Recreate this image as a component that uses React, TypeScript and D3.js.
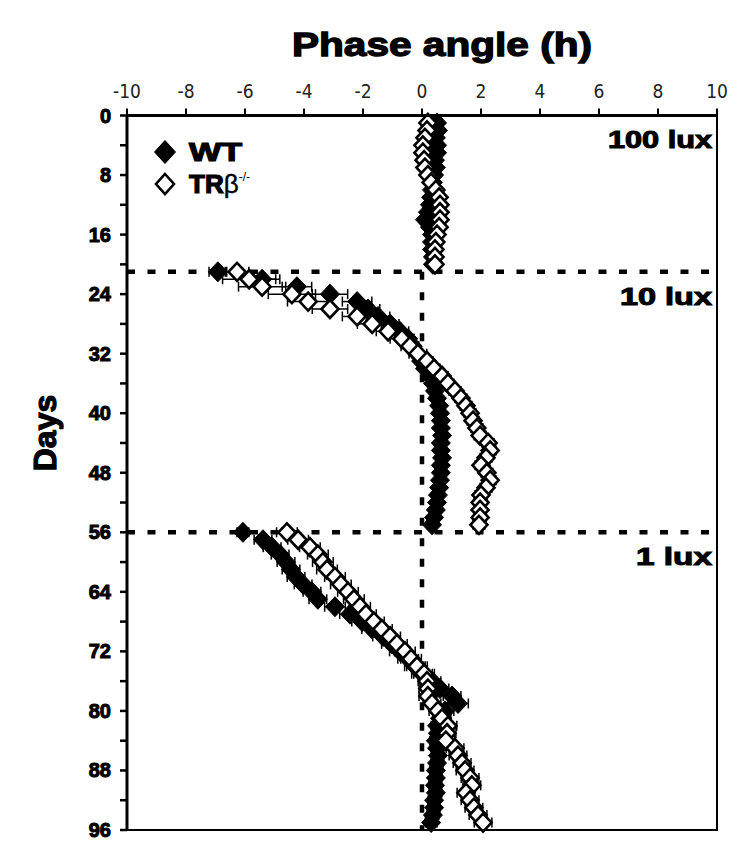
import React from 'react';
import * as d3 from 'd3';

// ---- data ----
const days = [
  1, 2, 3, 4, 5, 6, 7, 8, 9, 10, 11, 12, 13, 14, 15, 16, 17, 18, 19, 20,
  21, 22, 23, 24, 25, 26, 27, 28, 29, 30, 31, 32, 33, 34, 35, 36, 37, 38, 39, 40,
  41, 42, 43, 44, 45, 46, 47, 48, 49, 50, 51, 52, 53, 54, 55,
  56, 57, 58, 59, 60, 61, 62, 63, 64, 65, 66, 67, 68, 69, 70, 71, 72, 73, 74, 75,
  76, 77, 78, 79, 80, 81, 82, 83, 84, 85, 86, 87, 88, 89, 90, 91, 92, 93, 94, 95,
];

const wtPhase = [
  0.51, 0.54, 0.47, 0.51, 0.51, 0.44, 0.47, 0.41, 0.37, 0.34, 0.31, 0.27, 0.2, 0.1, 0.27, 0.34, 0.34, 0.34, 0.37, 0.37,
  -6.92, -5.42, -4.24, -3.12, -2.2, -1.83, -1.49, -1.08, -0.75, -0.47, -0.31, -0.17, -0.03, 0.1, 0.27, 0.37, 0.44, 0.51, 0.58, 0.61,
  0.64, 0.64, 0.68, 0.64, 0.64, 0.68, 0.64, 0.64, 0.61, 0.58, 0.54, 0.51, 0.47, 0.41, 0.34,
  -6.07, -5.39, -5.08, -4.81, -4.61, -4.44, -4.27, -4.03, -3.73, -3.53, -2.95, -2.44, -2.03, -1.69, -1.32, -1.02, -0.75, -0.47, -0.24, 0.0,
  0.34, 0.61, 1.02, 1.22, 0.78, 0.61, 0.51, 0.54, 0.47, 0.51, 0.54, 0.51, 0.47, 0.47, 0.44, 0.47, 0.41, 0.41, 0.37, 0.31,
];

const trPhase = [
  0.2, 0.17, 0.1, 0.03, 0.03, 0.07, 0.1, 0.2, 0.31, 0.47, 0.58, 0.61, 0.61, 0.61, 0.58, 0.51, 0.47, 0.44, 0.44, 0.44,
  -6.27, -5.86, -5.42, -4.41, -3.86, -3.12, -2.2, -1.69, -1.15, -0.68, -0.41, -0.14, 0.17, 0.41, 0.68, 0.88, 1.12, 1.32, 1.49, 1.63,
  1.73, 1.86, 1.97, 2.24, 2.31, 2.17, 2.0, 2.2, 2.31, 2.17, 2.0, 1.97, 1.97, 1.97, 1.93,
  -4.58, -4.2, -3.8, -3.53, -3.36, -3.22, -2.95, -2.75, -2.51, -2.31, -2.1, -1.9, -1.63, -1.36, -1.08, -0.85, -0.58, -0.37, -0.17, 0.07,
  0.17, 0.2, 0.2, 0.34, 0.54, 0.68, 0.88, 0.85, 0.81, 1.12, 1.22, 1.36, 1.46, 1.63, 1.69, 1.49, 1.63, 1.76, 1.9, 2.07,
];

const wtErr = [
  0.15, 0.15, 0.15, 0.15, 0.15, 0.15, 0.15, 0.15, 0.15, 0.15, 0.15, 0.15, 0.15, 0.15, 0.15, 0.15, 0.15, 0.15, 0.15, 0.15,
  0.3, 0.6, 0.5, 0.6, 0.5, 0.4, 0.4, 0.3, 0.3, 0.2, 0.15, 0.15, 0.15, 0.15, 0.15, 0.15, 0.15, 0.15, 0.15, 0.15,
  0.15, 0.15, 0.15, 0.15, 0.15, 0.15, 0.15, 0.15, 0.15, 0.15, 0.15, 0.15, 0.15, 0.15, 0.15,
  0.2, 0.3, 0.3, 0.3, 0.3, 0.3, 0.3, 0.3, 0.3, 0.3, 0.35, 0.35, 0.35, 0.35, 0.35, 0.35, 0.35, 0.35, 0.35, 0.35,
  0.3, 0.3, 0.3, 0.35, 0.3, 0.2, 0.2, 0.2, 0.2, 0.2, 0.2, 0.2, 0.2, 0.2, 0.2, 0.2, 0.2, 0.2, 0.2, 0.2,
];

const trErr = [
  0.15, 0.15, 0.15, 0.15, 0.15, 0.15, 0.15, 0.15, 0.15, 0.15, 0.15, 0.15, 0.15, 0.15, 0.15, 0.15, 0.15, 0.15, 0.15, 0.15,
  0.4, 0.9, 0.8, 0.8, 0.7, 0.6, 0.5, 0.5, 0.4, 0.4, 0.3, 0.3, 0.2, 0.2, 0.2, 0.2, 0.2, 0.2, 0.2, 0.2,
  0.2, 0.2, 0.2, 0.2, 0.2, 0.2, 0.2, 0.2, 0.2, 0.2, 0.2, 0.2, 0.2, 0.2, 0.2,
  0.35, 0.35, 0.35, 0.35, 0.35, 0.35, 0.35, 0.35, 0.35, 0.35, 0.35, 0.35, 0.35, 0.35, 0.35, 0.35, 0.35, 0.35, 0.35, 0.35,
  0.3, 0.3, 0.3, 0.3, 0.3, 0.3, 0.3, 0.3, 0.3, 0.3, 0.3, 0.3, 0.3, 0.3, 0.3, 0.3, 0.3, 0.3, 0.3, 0.3,
];

const xTicks = [-10, -8, -6, -4, -2, 0, 2, 4, 6, 8, 10];
const yLabelTicks = [0, 8, 16, 24, 32, 40, 48, 56, 64, 72, 80, 88, 96];
const yMinorTicks = [4, 12, 20, 28, 36, 44, 52, 60, 68, 76, 84, 92];
const shiftDays = [21, 56];
const luxLabels = ['100 lux', '10 lux', '1 lux'];
const luxLabelDays = [4.4, 25.4, 60.4];

const heavy = "'Liberation Sans', Arial, Helvetica, sans-serif";
const thin = "'Liberation Sans Narrow', 'DejaVu Sans Condensed', 'Liberation Sans', sans-serif";

function diamond(cx: number, cy: number, rx: number, ry: number) {
  return `M${cx},${cy - ry}L${cx + rx},${cy}L${cx},${cy + ry}L${cx - rx},${cy}Z`;
}

export default function App() {
  const W = 750;
  const H = 852;
  const x = d3.scaleLinear().domain([-10, 10]).range([127, 717]);
  const y = d3.scaleLinear().domain([0, 96]).range([115.5, 830]);
  const [x0, x1] = x.range();
  const [y0, y1] = y.range();
  const cap = 5;
  const luxWidths = [104, 92, 76];

  const errBars = (vals: number[], errs: number[], key: string) =>
    days.map((d, i) => {
      const cy = y(d);
      const a = x(vals[i] - errs[i]);
      const b = x(vals[i] + errs[i]);
      return (
        <g key={key + i} stroke="#000" strokeWidth={1.5}>
          <line x1={a} x2={b} y1={cy} y2={cy} />
          <line x1={a} x2={a} y1={cy - cap} y2={cy + cap} />
          <line x1={b} x2={b} y1={cy - cap} y2={cy + cap} />
        </g>
      );
    });

  return (
    <svg width={W} height={H} style={{ position: 'absolute', left: 0, top: 0, background: '#fff' }}>
      <rect x={0} y={0} width={W} height={H} fill="#fff" />

      {/* title */}
      <text
        x={442}
        y={56}
        textAnchor="middle"
        fontFamily={heavy}
        fontWeight="bold"
        fontSize={33}
        stroke="#000"
        strokeWidth={1.3}
        fill="#000"
        textLength={300}
        lengthAdjust="spacingAndGlyphs"
      >
        Phase angle (h)
      </text>

      {/* y title */}
      <text
        transform={`translate(56,${433}) rotate(-90)`}
        textAnchor="middle"
        fontFamily={heavy}
        fontWeight="bold"
        fontSize={32}
        stroke="#000"
        strokeWidth={1.2}
        fill="#000"
      >
        Days
      </text>

      {/* reference dashed lines */}
      {shiftDays.map((d) => (
        <line key={'h' + d} x1={x0} x2={x1} y1={y(d)} y2={y(d)} stroke="#000" strokeWidth={4.5} strokeDasharray="8,12.5" />
      ))}
      <line x1={x(0)} x2={x(0)} y1={y(shiftDays[0])} y2={y1} stroke="#000" strokeWidth={4.5} strokeDasharray="8,12.5" />

      {/* error bars */}
      {errBars(wtPhase, wtErr, 'we')}
      {errBars(trPhase, trErr, 'te')}

      {/* WT markers */}
      {days.map((d, i) => (
        <path key={'w' + i} d={diamond(x(wtPhase[i]), y(d), 9.5, 10)} fill="#000" stroke="#000" strokeWidth={1} />
      ))}
      {/* TR markers */}
      {days.map((d, i) => (
        <path key={'t' + i} d={diamond(x(trPhase[i]), y(d), 8.5, 9)} fill="#fff" stroke="#000" strokeWidth={2.6} />
      ))}

      {/* frame */}
      <rect x={x0} y={y0} width={x1 - x0} height={y1 - y0} fill="none" stroke="#000" strokeWidth={2} />
      <line x1={x0} x2={x1} y1={y0} y2={y0} stroke="#000" strokeWidth={3} />
      <line x1={x0} x2={x0} y1={y0} y2={y1} stroke="#000" strokeWidth={3} />

      {/* x axis (top) */}
      {xTicks.map((t) => (
        <g key={'xt' + t}>
          <line x1={x(t)} x2={x(t)} y1={y0} y2={y0 - 7} stroke="#000" strokeWidth={2} />
          <text x={x(t)} y={98} textAnchor="middle" fontFamily={thin} fontSize={19} fill="#222">
            {String(t)}
          </text>
        </g>
      ))}

      {/* y axis (left) */}
      {yLabelTicks.map((t) => (
        <g key={'yt' + t}>
          <line x1={x0} x2={x0 - 7} y1={y(t)} y2={y(t)} stroke="#000" strokeWidth={2.5} />
          <text
            x={111}
            y={y(t) + 7}
            textAnchor="end"
            fontFamily={heavy}
            fontWeight="bold"
            fontSize={20}
            stroke="#000"
            strokeWidth={1}
            fill="#000"
          >
            {String(t)}
          </text>
        </g>
      ))}
      {yMinorTicks.map((t) => (
        <line key={'ym' + t} x1={x0} x2={x0 - 7} y1={y(t)} y2={y(t)} stroke="#000" strokeWidth={2.5} />
      ))}

      {/* lux labels */}
      {luxLabels.map((l, i) => (
        <text
          key={l}
          x={712}
          y={y(luxLabelDays[i])}
          textAnchor="end"
          fontFamily={heavy}
          fontWeight="bold"
          fontSize={23}
          stroke="#000"
          strokeWidth={1}
          fill="#000"
          textLength={luxWidths[i]}
          lengthAdjust="spacingAndGlyphs"
        >
          {l}
        </text>
      ))}

      {/* legend */}
      <path d={diamond(165, 152, 10.5, 11.5)} fill="#000" stroke="#000" strokeWidth={1} />
      <text
        x={189}
        y={161}
        fontFamily={heavy}
        fontWeight="bold"
        fontSize={26}
        stroke="#000"
        strokeWidth={1.2}
        fill="#000"
        textLength={53}
        lengthAdjust="spacingAndGlyphs"
      >
        WT
      </text>
      <path d={diamond(165, 184, 9, 10)} fill="#fff" stroke="#000" strokeWidth={2.6} />
      <text x={189} y={193} fontFamily={heavy} fontWeight="bold" fontSize={26} stroke="#000" strokeWidth={1.2} fill="#000">
        TR
        <tspan fontWeight="normal" strokeWidth={0.4}>β</tspan>
        <tspan fontSize={12} dy={-12} fontWeight="normal" strokeWidth={0}>-/-</tspan>
      </text>
    </svg>
  );
}
